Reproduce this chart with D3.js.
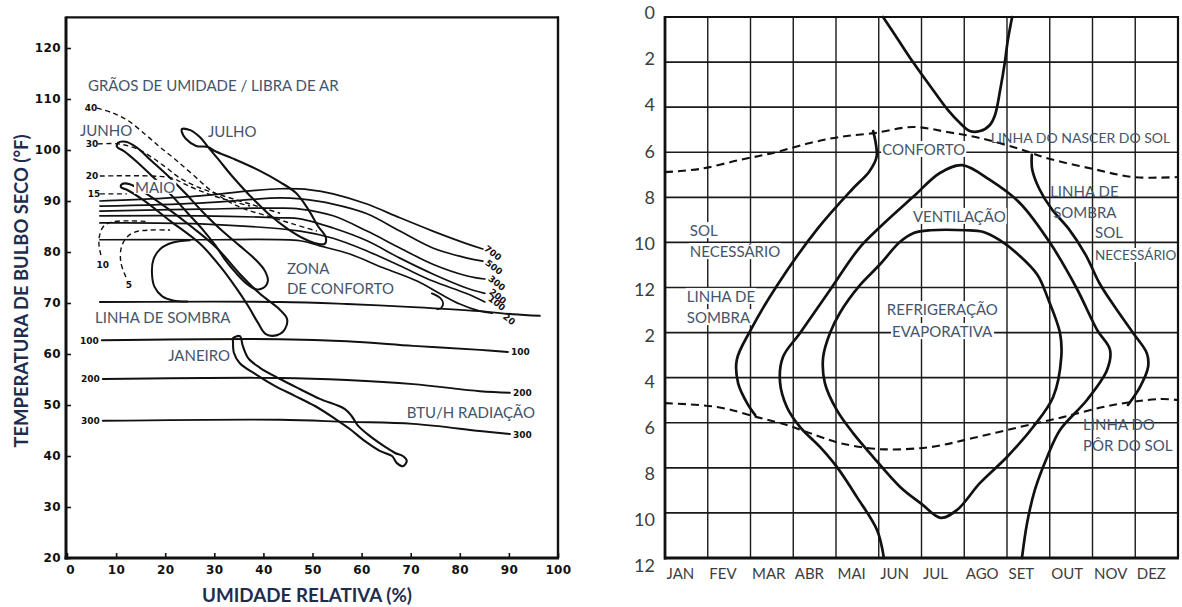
<!DOCTYPE html>
<html lang="pt">
<head>
<meta charset="utf-8">
<script src="https://cdn.jsdelivr.net/npm/d3@7"></script>
<style>
  html, body { margin: 0; padding: 0; background: #fff; }
  svg { display: block; }
  .note { font-family: Lato, "Open Sans", sans-serif; font-size: 15px; fill: #44546a; }
  .tiny { font-family: "DejaVu Sans", sans-serif; font-weight: bold; font-size: 9px; fill: #111; }
</style>
</head>
<body>
<svg id="chart" width="1182" height="607"></svg>
<script>
// ================= Bioclimatic chart (relative humidity × dry-bulb temperature) =================
const humidityTicks = [0, 10, 20, 30, 40, 50, 60, 70, 80, 90, 100];
const temperatureTicks = [20, 30, 40, 50, 60, 70, 80, 90, 100, 110, 120];

// radiation lines, BTU/h  — points are [RH %, °F]
const radiationNames = ["100", "200", "300"];
const radiation100 = [[7.1,62.7],[43.4,62.9],[57.0,62.5],[70.5,61.6],[84.1,60.8],[89.8,60.4]];
const radiation200 = [[7.3,55.1],[43.4,55.3],[57.0,54.9],[70.5,54.1],[84.1,52.7],[90.2,52.4]];
const radiation300 = [[7.3,46.9],[43.4,47.1],[57.0,46.7],[70.5,46.3],[84.1,44.9],[90.2,44.3]];

// shading line (lower limit of the comfort zone)
const shadingLine = [[6.7,70.2],[43.4,70.2],[57.0,69.8],[70.5,69.2],[84.1,68.4],[90.8,67.8],[96.3,67.5]];

// wind lines (fpm), upper limits of comfort with air movement
const windNames = ["700", "500", "300", "200", "100", "20"];
const wind700 = [[6.7,90.0],[16.9,90.4],[27.1,91.0],[37.3,92.0],[43.4,92.4],[49.5,92.2],[54.2,91.4],[61.1,89.4],[67.8,86.7],[74.5,84.1],[81.5,81.6],[84.7,80.6]];
const wind500 = [[6.7,89.0],[27.1,89.6],[43.4,90.6],[47.5,90.4],[54.2,89.4],[61.1,87.5],[67.8,84.1],[74.5,80.8],[81.5,78.8],[84.7,78.2]];
const wind300 = [[6.7,88.0],[27.1,88.4],[43.4,88.6],[47.5,88.4],[54.2,87.1],[61.1,84.1],[67.8,80.8],[74.5,77.6],[81.5,75.3],[85.1,74.7]];
const wind200 = [[6.7,87.1],[27.1,87.1],[43.4,86.7],[47.5,86.5],[54.2,84.7],[61.1,82.2],[67.8,78.8],[74.5,75.7],[81.5,72.9],[85.1,71.9]];
const wind100 = [[6.7,85.7],[27.1,85.5],[47.5,84.1],[54.2,82.7],[61.1,80.2],[67.8,77.3],[74.5,74.3],[81.5,71.8],[85.1,70.2]];
const wind20  = [[6.7,82.4],[27.1,82.4],[47.5,82.2],[51.5,81.2],[57.6,79.6],[64.4,76.9],[71.3,74.3],[76.0,71.8],[80.0,69.8],[84.1,68.4],[86.6,68.0]];

// comfort zone closing edges
const comfortLeftEdge  = [[25.0,82.3],[21.4,81.8],[19.0,80.6],[17.6,78.5],[17.3,76.0],[17.8,73.2],[19.4,71.3],[21.6,70.5],[24.5,70.3]];
const comfortRightEdge = [[74.3,71.9],[76.0,71.0],[76.6,70.0],[76.2,69.0],[75.4,68.8]];

// moisture lines, grains of moisture per pound of air (dashed)
const moistureNames = ["40", "30", "20", "15", "10", "5"];
const moisture40 = [[6.1,108.2],[9.2,107.3],[12.2,105.9],[15.9,103.1],[18.9,100.6],[22.0,98.2],[25.7,95.1],[29.7,91.8],[35.2,88.8],[40.7,87.1],[46.0,85.5],[50.9,84.1]];
const moisture30 = [[6.3,101.2],[10.4,101.2],[13.8,100.4],[16.9,98.8],[20.0,96.7],[23.0,94.5],[26.7,92.7],[31.2,91.2],[37.3,89.4],[43.4,87.6]];
const moisture20 = [[6.7,94.9],[16.9,94.9],[21.4,94.5],[24.0,93.3],[27.1,92.0],[31.2,90.6],[37.3,89.0]];
const moisture15 = [[6.7,91.4],[12.2,91.4]];
const moisture10 = [[6.9,79.4],[6.5,81.6],[6.7,83.5],[7.5,85.1],[9.2,85.9],[12.8,86.1],[16.0,86.0]];
const moisture5  = [[12.0,75.1],[11.0,77.8],[11.0,80.6],[12.0,82.7],[13.8,83.9],[16.9,84.3],[21.0,84.3]];

// monthly climate loops (daily max/min of temperature and humidity)
const june = [[10.4,101.4],[12.0,101.6],[14.3,100.4],[17.3,97.8],[20.6,94.9],[24.0,91.6],[27.5,88.0],[31.2,84.5],[35.2,81.2],[38.3,78.6],[40.3,76.3],[40.9,74.3],[39.9,72.9],[38.5,72.7],[36.7,73.7],[34.4,75.9],[32.4,78.2],[30.3,81.2],[27.9,84.1],[24.6,87.6],[21.0,91.4],[17.3,94.9],[14.1,97.8],[11.6,99.8],[10.2,100.6]];
const may = [[11.2,93.3],[12.8,93.3],[15.9,91.6],[20.4,88.6],[25.7,84.7],[30.5,80.8],[35.2,75.7],[39.3,71.8],[43.0,69.0],[44.8,66.9],[44.4,64.9],[42.8,63.7],[40.5,63.9],[38.9,66.1],[36.9,69.4],[34.2,73.3],[31.6,76.7],[27.1,81.6],[21.0,86.1],[15.5,90.2],[12.2,92.2],[11.0,92.7]];
const july = [[23.4,104.1],[25.1,103.9],[27.1,102.5],[28.7,100.6],[30.8,98.2],[33.6,94.9],[37.3,91.0],[40.9,87.6],[45.0,84.5],[48.5,82.5],[51.1,81.6],[52.5,81.6],[52.7,82.9],[51.1,85.1],[49.1,88.4],[46.6,91.6],[43.4,93.7],[38.9,96.1],[33.6,98.4],[30.1,99.8],[28.7,100.6],[26.3,100.8],[24.2,102.2],[23.4,103.5]];
const january = [[33.8,63.1],[35.2,63.5],[35.8,61.6],[36.9,59.2],[39.3,57.3],[43.4,55.1],[47.5,53.1],[51.5,51.2],[56.6,49.2],[58.0,47.8],[59.3,45.9],[61.7,43.9],[64.8,41.8],[66.8,40.6],[68.4,40.0],[69.2,39.0],[68.4,38.0],[67.2,38.6],[66.2,40.0],[63.7,41.0],[60.7,42.9],[57.6,45.3],[54.6,47.3],[50.5,49.8],[46.4,51.8],[42.4,53.7],[38.3,56.1],[35.2,58.2],[34.0,60.2],[33.8,62.5]];

// ================= Timetable chart (months × hours of the day) =================
const months = ["JAN","FEV","MAR","ABR","MAI","JUN","JUL","AGO","SET","OUT","NOV","DEZ"];
const hourTicks = [0, 2, 4, 6, 8, 10, 12, 14, 16, 18, 20, 22, 24];
const hourLabels = ["0","2","4","6","8","10","12","2","4","6","8","10","12"];

// points are [month position, hour]
const overheatMorning = [[5.10,0],[5.45,1.0],[5.80,2.0],[6.27,3.24],[6.62,4.13],[6.90,4.7],[7.13,5.06],[7.37,5.06],[7.6,4.79],[7.72,4.35],[7.84,3.24],[7.95,2.0],[8.02,1.02],[8.12,0]];
const sunrise = [[0,6.88],[0.82,6.74],[1.75,6.34],[2.53,6.03],[3.39,5.59],[4.09,5.32],[4.89,5.15],[5.80,4.88],[6.60,5.10],[7.37,5.37],[8.30,5.86],[9.01,6.30],[10.01,6.74],[10.95,7.10],[12,7.10]];
const sunset = [[0,17.13],[1.22,17.30],[2.15,17.75],[2.85,18.10],[3.39,18.46],[4.09,18.90],[5.03,19.17],[6.20,19.08],[7.20,18.68],[8.30,18.19],[9.31,17.75],[10.48,17.21],[11.58,16.95],[12,16.99]];
const shadeBoundaryEarly = [[4.87,5.06],[4.93,5.6],[4.95,6.2],[4.78,6.85],[4.38,7.64],[3.57,9.39],[2.61,11.94],[2.0,13.9],[1.68,15.2],[1.71,16.24],[1.92,17.13],[2.11,17.66]];
const shadeBoundaryLate = [[8.58,6.12],[8.59,6.76],[8.76,7.64],[9.04,8.51],[9.44,9.39],[9.84,10.55],[10.16,11.8],[10.5,12.8],[10.95,14.02],[11.27,14.91],[11.30,15.53],[11.11,16.42],[10.83,17.21]];
const ventilationBoundary = [[5.12,24],[4.96,22.76],[4.49,21.30],[4.02,19.96],[3.63,19.08],[3.16,18.19],[2.85,17.30],[2.69,16.19],[2.76,15.08],[3.16,14.02],[3.86,12.11],[4.54,10.26],[5.03,9.32],[5.80,7.99],[6.43,6.92],[6.95,6.57],[7.60,7.23],[8.30,8.25],[9.01,10.03],[9.62,12.0],[10.11,13.89],[10.41,14.77],[10.34,15.66],[9.87,16.99],[9.24,18.32],[8.94,19.52],[8.65,20.99],[8.47,22.45],[8.35,24]];
const evaporativeBoundary = [[6.22,9.46],[5.82,9.58],[5.5,9.97],[5.02,10.99],[4.54,11.94],[4.09,13.13],[3.86,14.02],[3.70,15.08],[3.74,16.24],[4.02,17.44],[4.40,18.46],[4.87,19.52],[5.50,20.85],[6.0,21.6],[6.45,22.22],[6.83,21.87],[7.37,20.67],[8.0,19.52],[8.61,18.19],[9.08,16.86],[9.27,15.08],[9.24,14.02],[8.96,12.5],[8.71,11.43],[8.23,10.48],[7.83,9.9],[7.43,9.53],[7.03,9.46]];

// ---------------------------------------------------------------------------------------------
const INK = "#111";
const svg = d3.select("#chart");

// ---------- left panel ----------
const xL = d3.scaleLinear().domain([0, 100]).range([67, 558]);
const yL = d3.scaleLinear().domain([20, 120]).range([558, 48]);
const tempTop = 126;

const lineL = d3.line().x(d => xL(d[0])).y(d => yL(d[1])).curve(d3.curveCatmullRom.alpha(0.5));
const loopL = d3.line().x(d => xL(d[0])).y(d => yL(d[1])).curve(d3.curveCatmullRomClosed.alpha(0.5));

const gL = svg.append("g");
const leftLines = gL.append("g").attr("fill", "none").attr("stroke", INK).attr("stroke-linejoin", "round").attr("stroke-linecap", "round");

[radiation100, radiation200, radiation300].forEach(p =>
  leftLines.append("path").attr("d", lineL(p)).attr("stroke-width", 1.9));
leftLines.append("path").attr("d", lineL(shadingLine)).attr("stroke-width", 1.9);

[wind700, wind500, wind300, wind200, wind100, wind20].forEach(p =>
  leftLines.append("path").attr("d", lineL(p)).attr("stroke-width", 1.7));
leftLines.append("path").attr("d", lineL(comfortLeftEdge)).attr("stroke-width", 2);
leftLines.append("path").attr("d", lineL(comfortRightEdge)).attr("stroke-width", 1.8);

[moisture40, moisture30, moisture20, moisture15, moisture10, moisture5].forEach(p =>
  leftLines.append("path").attr("d", lineL(p)).attr("stroke-width", 1.4).attr("stroke-dasharray", "5,3.5").attr("stroke-linecap", "butt"));

[june, may, july, january].forEach(p =>
  leftLines.append("path").attr("d", loopL(p)).attr("stroke-width", 2.1));

// small line labels
const tinyL = gL.append("g");
const radiationLines = [radiation100, radiation200, radiation300];
radiationLines.forEach((p, i) => {
  tinyL.append("text").attr("class", "tiny").attr("text-anchor", "end")
    .attr("x", xL(p[0][0]) - 3).attr("y", yL(p[0][1]) + 3.5).text(radiationNames[i]);
  const e = p[p.length - 1];
  tinyL.append("text").attr("class", "tiny")
    .attr("x", xL(e[0]) + 3).attr("y", yL(e[1]) + 3.5).text(radiationNames[i]);
});
const windLines = [wind700, wind500, wind300, wind200, wind100, wind20];
const windLabelOffset = [[10, 4], [11, 6], [12, 4], [13, 3], [12, 1], [17, 6]];
windLines.forEach((p, i) => {
  const e = p[p.length - 1];
  const x = xL(e[0]) + windLabelOffset[i][0], y = yL(e[1]) + windLabelOffset[i][1];
  tinyL.append("text").attr("class", "tiny").attr("text-anchor", "middle")
    .attr("transform", `translate(${x},${y}) rotate(38)`).attr("dy", "0.35em").text(windNames[i]);
});
const moistureLines = [moisture40, moisture30, moisture20, moisture15, moisture10, moisture5];
const moistureLabelOffset = [[-6, 0], [-6, 0], [-8, 0], [-6, 0], [2, 10], [3, 8]];
moistureLines.forEach((p, i) => {
  const s = p[0];
  tinyL.append("text").attr("class", "tiny").attr("text-anchor", "middle")
    .attr("x", xL(s[0]) + moistureLabelOffset[i][0]).attr("y", yL(s[1]) + moistureLabelOffset[i][1]).attr("dy", "0.35em")
    .text(moistureNames[i]);
});

// annotations (baseline-left anchor in data units)
const leftNotes = [
  { text: "GRÃOS DE UMIDADE / LIBRA DE AR", at: [4.28, 111.6] },
  { text: "JUNHO", at: [2.65, 102.7] },
  { text: "JULHO", at: [28.7, 102.5] },
  { text: "MAIO", at: [13.85, 91.6], bg: true },
  { text: "ZONA", at: [44.8, 75.7] },
  { text: "DE CONFORTO", at: [44.8, 71.8] },
  { text: "LINHA DE SOMBRA", at: [5.7, 66.1] },
  { text: "JANEIRO", at: [20.6, 58.6] },
  { text: "BTU/H RADIAÇÃO", at: [69.2, 47.5] }
];
const leftBg = gL.append("g");
const leftText = gL.append("g");
leftNotes.forEach(n => {
  const t = leftText.append("text").attr("class", "note")
    .attr("x", xL(n.at[0])).attr("y", yL(n.at[1])).text(n.text);
  if (n.bg) {
    const b = t.node().getBBox();
    leftBg.append("rect").attr("x", b.x - 1).attr("y", b.y + 2).attr("width", b.width + 2).attr("height", b.height - 4).attr("fill", "#fff");
  }
});

// frame
const frameL = gL.append("g").attr("stroke", INK).attr("fill", "none");
frameL.append("line").attr("x1", xL(0) - 1).attr("x2", xL(0) - 1).attr("y1", yL(tempTop) - 1).attr("y2", yL(20) + 1.5).attr("stroke-width", 3);
frameL.append("line").attr("x1", xL(0) - 2.5).attr("x2", xL(100) + 1).attr("y1", yL(20)).attr("y2", yL(20)).attr("stroke-width", 3);
frameL.append("line").attr("x1", xL(0) - 1).attr("x2", xL(100) + 1).attr("y1", yL(tempTop)).attr("y2", yL(tempTop)).attr("stroke-width", 2.4);
frameL.append("line").attr("x1", xL(100)).attr("x2", xL(100)).attr("y1", yL(tempTop) - 1).attr("y2", yL(20)).attr("stroke-width", 2.4);

// axes
const axisTemp = d3.axisLeft(yL).tickValues(temperatureTicks).tickSizeInner(-5).tickSizeOuter(0).tickPadding(5);
const gTemp = gL.append("g").attr("transform", `translate(${xL(0) - 1},0)`).call(axisTemp);
const axisHum = d3.axisBottom(xL).tickValues(humidityTicks).tickSizeInner(-5).tickSizeOuter(0).tickPadding(7);
const gHum = gL.append("g").attr("transform", `translate(0,${yL(20)})`).call(axisHum);
[gTemp, gHum].forEach(g => {
  g.select(".domain").remove();
  g.selectAll(".tick line").attr("stroke", INK).attr("stroke-width", 1.6);
  g.selectAll(".tick text").attr("font-family", "'DejaVu Sans', sans-serif").attr("font-weight", "bold")
    .attr("font-size", 12).attr("letter-spacing", "0.4px").attr("fill", INK);
});
gHum.select(".tick text").attr("dx", 3);

// axis titles
gL.append("text").attr("transform", "translate(28,291) rotate(-90)").attr("text-anchor", "middle")
  .attr("font-family", "Lato, sans-serif").attr("font-weight", "bold").attr("font-size", 18).attr("fill", "#1f2d4d")
  .attr("textLength", 313).attr("lengthAdjust", "spacingAndGlyphs")
  .text("TEMPERATURA DE BULBO SECO (°F)");
gL.append("text").attr("x", 307).attr("y", 602).attr("text-anchor", "middle")
  .attr("font-family", "Lato, sans-serif").attr("font-weight", "bold").attr("font-size", 18).attr("fill", "#1f2d4d")
  .attr("textLength", 210).attr("lengthAdjust", "spacingAndGlyphs")
  .text("UMIDADE RELATIVA (%)");

// ---------- right panel ----------
const xR = d3.scaleLinear().domain([0, 12]).range([665, 1178]);
const yR = d3.scaleLinear().domain([0, 24]).range([17, 558]);
const yHourLabel = d3.scaleLinear().domain([0, 24]).range([13, 566]);

const lineR = d3.line().x(d => xR(d[0])).y(d => yR(d[1])).curve(d3.curveCatmullRom.alpha(0.5));
const loopR = d3.line().x(d => xR(d[0])).y(d => yR(d[1])).curve(d3.curveCatmullRomClosed.alpha(0.5));

const gR = svg.append("g");
const grid = gR.append("g").attr("stroke", "#1a1a1a").attr("stroke-width", 1.4);
d3.range(1, 12).forEach(m =>
  grid.append("line").attr("x1", xR(m)).attr("x2", xR(m)).attr("y1", yR(0)).attr("y2", yR(24)));
hourTicks.slice(1, -1).forEach(h =>
  grid.append("line").attr("x1", xR(0)).attr("x2", xR(12)).attr("y1", yR(h)).attr("y2", yR(h)).attr("stroke-width", 1.6));

const rightBg = gR.append("g");
const curves = gR.append("g").attr("fill", "none").attr("stroke", INK).attr("stroke-linejoin", "round").attr("stroke-linecap", "round");
[sunrise, sunset].forEach(p =>
  curves.append("path").attr("d", lineR(p)).attr("stroke-width", 2.1).attr("stroke-dasharray", "8,5").attr("stroke-linecap", "butt"));
[overheatMorning, shadeBoundaryEarly, shadeBoundaryLate, ventilationBoundary].forEach(p =>
  curves.append("path").attr("d", lineR(p)).attr("stroke-width", 2.7));
curves.append("path").attr("d", loopR(evaporativeBoundary)).attr("stroke-width", 2.7);

// frame
const frameR = gR.append("g").attr("stroke", INK).attr("fill", "none");
frameR.append("line").attr("x1", xR(0)).attr("x2", xR(0)).attr("y1", yR(0) - 1).attr("y2", yR(24) + 1.5).attr("stroke-width", 2.8);
frameR.append("line").attr("x1", xR(0) - 1).attr("x2", xR(12) + 1).attr("y1", yR(24)).attr("y2", yR(24)).attr("stroke-width", 2.8);
frameR.append("line").attr("x1", xR(0) - 1).attr("x2", xR(12) + 1).attr("y1", yR(0)).attr("y2", yR(0)).attr("stroke-width", 2.2);
frameR.append("line").attr("x1", xR(12)).attr("x2", xR(12)).attr("y1", yR(0) - 1).attr("y2", yR(24)).attr("stroke-width", 2.2);

// axes
const axisHour = d3.axisLeft(yR).tickValues(hourTicks).tickFormat((d, i) => hourLabels[i]).tickSize(0).tickPadding(10);
const gHour = gR.append("g").attr("transform", `translate(${xR(0)},0)`).call(axisHour);
gHour.select(".domain").remove();
gHour.selectAll(".tick text").attr("font-family", "Lato, sans-serif").attr("font-size", 18).attr("fill", "#3d3d3d")
  .attr("y", d => yHourLabel(d) - yR(d));

const axisMonth = d3.axisBottom(xR).tickValues(d3.range(12)).tickFormat(i => months[i]).tickSize(0).tickPadding(10);
const gMonth = gR.append("g").attr("transform", `translate(0,${yR(24)})`).call(axisMonth);
gMonth.select(".domain").remove();
gMonth.selectAll(".tick text").attr("font-family", "Lato, sans-serif").attr("font-size", 15).attr("fill", "#3d3d3d")
  .attr("text-anchor", "start").attr("x", 1);

// annotations (size = smaller type where the text runs up to the frame edge)
const rightNotes = [
  { text: "CONFORTO", at: [5.08, 6.12], bg: true },
  { text: "LINHA DO NASCER DO SOL", at: [7.62, 5.59], size: 14 },
  { text: "LINHA DE", at: [9.01, 7.99] },
  { text: "SOMBRA", at: [9.08, 8.92] },
  { text: "SOL", at: [10.06, 9.80], bg: true },
  { text: "NECESSÁRIO", at: [10.06, 10.78], bg: true, size: 13.5 },
  { text: "VENTILAÇÃO", at: [5.80, 9.09], bg: true },
  { text: "SOL", at: [0.58, 9.72], bg: true },
  { text: "NECESSÁRIO", at: [0.58, 10.65], bg: true },
  { text: "LINHA DE", at: [0.51, 12.64], bg: true },
  { text: "SOMBRA", at: [0.51, 13.58], bg: true },
  { text: "REFRIGERAÇÃO", at: [5.19, 13.22], bg: true },
  { text: "EVAPORATIVA", at: [5.31, 14.20], bg: true },
  { text: "LINHA DO", at: [9.78, 18.32] },
  { text: "PÔR DO SOL", at: [9.78, 19.25] }
];
const rightText = gR.append("g");
rightNotes.forEach(n => {
  const t = rightText.append("text").attr("class", "note")
    .attr("x", xR(n.at[0])).attr("y", yR(n.at[1])).text(n.text);
  if (n.size) t.style("font-size", n.size + "px");
  if (n.bg) {
    const b = t.node().getBBox();
    rightBg.append("rect").attr("x", b.x - 1).attr("y", b.y + 1).attr("width", b.width + 2).attr("height", b.height - 2).attr("fill", "#fff");
  }
});
</script>
</body>
</html>
